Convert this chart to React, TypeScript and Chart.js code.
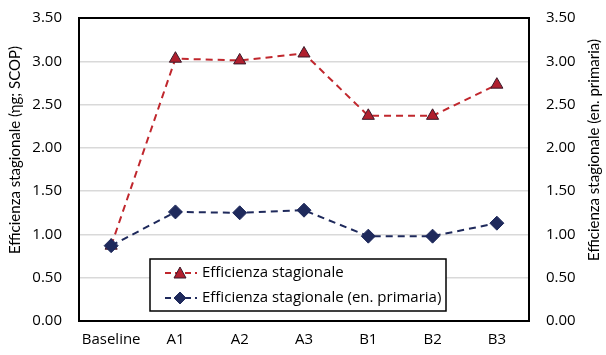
import React, { useEffect, useRef } from "react";
import { Chart, registerables } from "chart.js";

Chart.register(...registerables);

const categories = ["Baseline", "A1", "A2", "A3", "B1", "B2", "B3"];
const seasonalEff = [0.87, 3.03, 3.01, 3.09, 2.37, 2.37, 2.73];
const primaryEff = [0.87, 1.26, 1.25, 1.28, 0.98, 0.98, 1.13];
const seriesLabels = ["Efficienza stagionale", "Efficienza stagionale (en. primaria)"];
const leftTitle = "Efficienza stagionale (ηg; SCOP)";
const rightTitle = "Efficienza stagionale (en. primaria)";

const RED = "#c0272d";
const RED_FILL = "#b01f2e";
const NAVY = "#1f2a5c";
const FONT = "'Open Sans', 'DejaVu Sans', sans-serif";
const TITLE_FONT = "Lato, 'Open Sans', sans-serif";

const frameAndLegend = {
  id: "frameAndLegend",
  afterDraw(chart: any) {
    const { ctx, chartArea } = chart;
    ctx.save();
    ctx.strokeStyle = "#000";
    ctx.lineWidth = 2;
    ctx.strokeRect(chartArea.left, chartArea.top, chartArea.right - chartArea.left, chartArea.bottom - chartArea.top);

    // axis titles (both read bottom-to-top)
    const midY = 150;
    ctx.fillStyle = "#000";
    ctx.font = `15px ${TITLE_FONT}`;
    ctx.textAlign = "center";
    ctx.textBaseline = "middle";
    [[15, leftTitle], [594, rightTitle]].forEach(([x, t]: any) => {
      ctx.save();
      ctx.translate(x, midY);
      ctx.rotate(-Math.PI / 2);
      ctx.fillText(t, 0, 0);
      ctx.restore();
    });

    // legend box
    const bx = 150;
    const by = 259;
    const bw = 296;
    const bh = 52;
    ctx.fillStyle = "#fff";
    ctx.fillRect(bx, by, bw, bh);
    ctx.lineWidth = 1.5;
    ctx.strokeStyle = "#000";
    ctx.strokeRect(bx, by, bw, bh);
    const items = [chart.data.datasets[1], chart.data.datasets[0]];
    items.forEach((ds: any, i: number) => {
      const cy = by + 14 + i * 25;
      ctx.setLineDash([6, 4]);
      ctx.strokeStyle = ds.borderColor;
      ctx.lineWidth = 2;
      ctx.beginPath();
      ctx.moveTo(bx + 15, cy);
      ctx.lineTo(bx + 47, cy);
      ctx.stroke();
      ctx.setLineDash([]);
      const mx = bx + 30;
      ctx.fillStyle = ds.pointBackgroundColor;
      ctx.strokeStyle = ds.pointBorderColor;
      ctx.lineWidth = 1;
      ctx.beginPath();
      if (ds.pointStyle === "triangle") {
        ctx.moveTo(mx, cy - 6);
        ctx.lineTo(mx + 6, cy + 5);
        ctx.lineTo(mx - 6, cy + 5);
      } else {
        ctx.moveTo(mx, cy - 6);
        ctx.lineTo(mx + 6, cy);
        ctx.lineTo(mx, cy + 6);
        ctx.lineTo(mx - 6, cy);
      }
      ctx.closePath();
      ctx.fill();
      ctx.stroke();
      ctx.fillStyle = "#000";
      ctx.font = `15px ${FONT}`;
      ctx.textBaseline = "middle";
      ctx.textAlign = "left";
      ctx.fillText(ds.label, bx + 52, cy);
    });
    ctx.restore();
  },
};

export default function App() {
  const ref = useRef<HTMLCanvasElement>(null);
  useEffect(() => {
    if (!ref.current) return;
    const tickFont = { family: FONT, size: 15 };
    const fitV = (w: number) => (s: any) => { s.width = w; s.paddingTop = 0; s.paddingBottom = 0; };
    const chart = new Chart(ref.current, {
      type: "line",
      data: {
        labels: categories,
        datasets: [
          {
            label: seriesLabels[1],
            data: primaryEff,
            borderColor: NAVY,
            backgroundColor: NAVY,
            borderWidth: 2,
            borderDash: [7, 5],
            pointStyle: "rectRot",
            pointRadius: 7,
            pointBackgroundColor: NAVY,
            pointBorderColor: NAVY,
            pointBorderWidth: 1,
            yAxisID: "y",
            order: 0,
          },
          {
            label: seriesLabels[0],
            data: seasonalEff,
            borderColor: RED,
            backgroundColor: RED_FILL,
            borderWidth: 2,
            borderDash: [7, 5],
            pointStyle: "triangle",
            pointRadius: 7,
            pointBackgroundColor: RED_FILL,
            pointBorderColor: "#3a1a2a",
            pointBorderWidth: 1,
            yAxisID: "y",
            order: 1,
          },
        ],
      },
      options: {
        animation: false,
        responsive: false,
        layout: { padding: { top: 18, bottom: 0, left: 0, right: 0 } },
        plugins: { legend: { display: false }, tooltip: { enabled: false } },
        scales: {
          x: {
            offset: true,
            grid: { display: false, drawTicks: false },
            border: { display: false },
            ticks: { font: tickFont, color: "#000", padding: 10, maxRotation: 0, minRotation: 0, autoSkip: false },
            afterFit: (s: any) => { s.height = 34; s.paddingLeft = 0; s.paddingRight = 0; },
          },
          y: {
            position: "left",
            min: 0,
            max: 3.5,
            grid: { color: "#d9d9d9", lineWidth: 1.5, drawTicks: false },
            border: { display: false },
            ticks: { stepSize: 0.5, font: tickFont, color: "#000", padding: 17, callback: (v: any) => Number(v).toFixed(2) },
            afterFit: fitV(79),
          },
          y2: {
            position: "right",
            min: 0,
            max: 3.5,
            grid: { display: false, drawTicks: false },
            border: { display: false },
            ticks: { stepSize: 0.5, font: tickFont, color: "#000", padding: 17, callback: (v: any) => Number(v).toFixed(2) },
            afterFit: fitV(77),
          },
        },
      },
      plugins: [frameAndLegend],
    } as any);
    return () => chart.destroy();
  }, []);
  return (
    <div style={{ position: "fixed", left: 0, top: 0, width: 606, height: 355, background: "#fff" }}>
      <canvas ref={ref} width={606} height={355} />
    </div>
  );
}
